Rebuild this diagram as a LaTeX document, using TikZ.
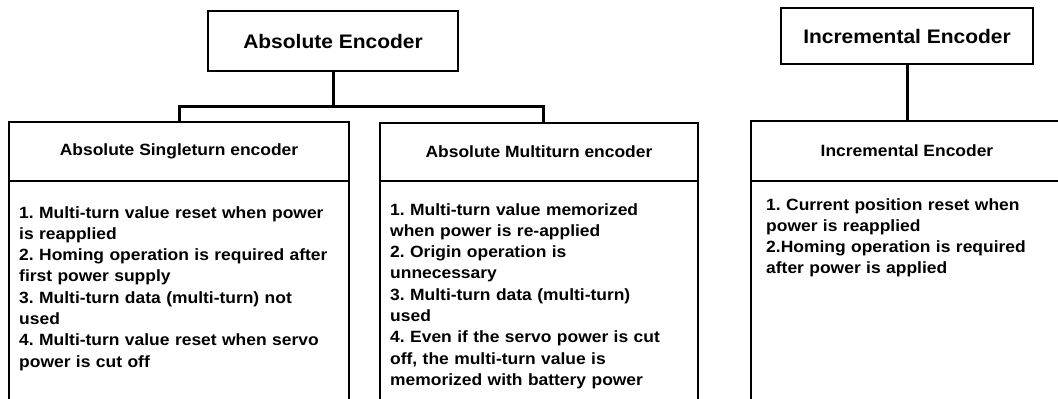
\documentclass[tikz,border=0pt]{standalone}
\usepackage{fontspec}
\setmainfont{Liberation Sans}[FakeStretch=1.07]
\frenchspacing
\usetikzlibrary{positioning}
\tikzset{
  titlebox/.style={draw,line width=1.8pt,outer sep=0pt,inner sep=0pt,minimum height=60pt,font=\fontsize{19.6}{22}\selectfont\bfseries},
  headbox/.style={draw,line width=1.8pt,outer sep=0pt,inner sep=0pt,minimum height=59pt,font=\fontsize{16.3}{20}\selectfont\bfseries},
  framebox/.style={draw,line width=1.8pt,outer sep=0pt,inner sep=0pt,minimum height=240pt,anchor=north},
  itemtext/.style={anchor=base west,inner sep=0pt,text width=330pt,align=left,font=\fontsize{16.3}{21.3}\selectfont\bfseries},
  link/.style={line width=3pt}
}
\begin{document}
\begin{tikzpicture}[x=1pt,y=-1pt]
    \useasboundingbox (0,0) rectangle (1058,399);
    \clip (0,0) rectangle (1058,399);
    \node[titlebox,minimum width=250pt] (abs) at (333,41) {Absolute Encoder};
    \node[titlebox,minimum width=252pt,minimum height=56pt] (inc) at (907,36) {Incremental Encoder};
    \node[headbox,minimum width=340pt] (sh) at (179,151.5) {Absolute Singleturn encoder};
    \node[headbox,minimum width=318pt,minimum height=58pt] (mh) at (539,152) {Absolute Multiturn encoder};
    \node[headbox,minimum width=312pt,minimum height=60pt] (ih) at (907,151) {Incremental Encoder};
    \node[framebox,minimum width=340pt] (sf) at (sh.south) {};
    \node[framebox,minimum width=318pt] (mf) at (mh.south) {};
    \node[framebox,minimum width=312pt] (if) at (ih.south) {};
    \node[itemtext] (st) at ([xshift=10pt,yshift=-37pt]sf.north west) {1. Multi-turn value reset when power\\is reapplied\\2. Homing operation is required after\\first power supply\\3. Multi-turn data (multi-turn) not\\used\\4. Multi-turn value reset when servo\\power is cut off};
    \node[itemtext] (mt) at ([xshift=10pt,yshift=-34pt]mf.north west) {1. Multi-turn value memorized\\when power is re-applied\\2. Origin operation is\\unnecessary\\3. Multi-turn data (multi-turn)\\used\\4. Even if the servo power is cut\\off, the multi-turn value is\\memorized with battery power};
    \node[itemtext] (it) at ([xshift=15pt,yshift=-29pt]if.north west) {1. Current position reset when\\power is reapplied\\2.Homing operation is required\\after power is applied};
    \coordinate (bus) at (333,106);
    \draw[link] (abs.south) -- (bus);
    \draw[link] (sh.north) |- (bus) -| ([xshift=4pt]mh.north);
    \draw[link] (inc.south) -- (ih.north);
  \end{tikzpicture}
\end{document}
